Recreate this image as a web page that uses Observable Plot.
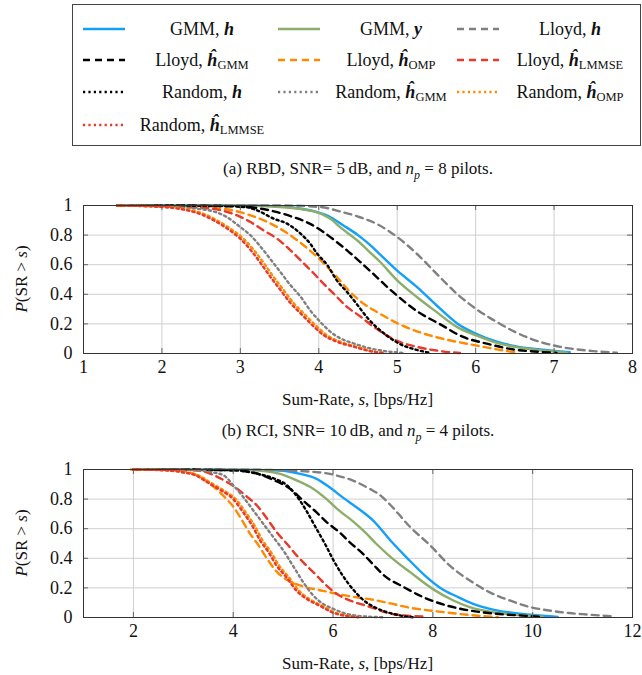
<!DOCTYPE html>
<html>
<head>
<meta charset="utf-8">
<script src="https://cdn.jsdelivr.net/npm/d3@7"></script>
<script src="https://cdn.jsdelivr.net/npm/@observablehq/plot@0.6"></script>
<style>
  html, body { margin: 0; padding: 0; background: #fff; }
  body { width: 642px; height: 675px; position: relative; overflow: hidden;
         font-family: "Liberation Serif", "Times New Roman", serif; color: #111; }
  .abs { position: absolute; white-space: nowrap; }
  .center { transform: translate(-50%, -50%); }
  .ylab { transform: translate(-50%, -50%) rotate(-90deg); font-size: 17px; }
  .cap, .xlab { font-size: 17px; }
  .legtext { font-size: 18px; text-align: center; width: 220px; transform: translate(-50%, -50%); }
  .legtext sub { font-size: 12.5px; vertical-align: -3px; line-height: 0; }
  .bi { font-weight: bold; font-style: italic; }
  #legend { position: absolute; left: 72px; top: 4px; width: 567px; height: 140px; border: 1px solid #444; }
</style>
</head>
<body>
<div id="legend"></div>
<script>
// ---------------- DATA ----------------
// legend / series descriptors
const methods = ["GMM", "GMM", "Lloyd", "Lloyd", "Lloyd", "Lloyd", "Random", "Random", "Random", "Random"];
const inputs  = ["h", "y", "h", "ĥ", "ĥ", "ĥ", "h", "ĥ", "ĥ", "ĥ"];
const subs    = ["", "", "", "GMM", "OMP", "LMMSE", "", "GMM", "OMP", "LMMSE"];

// (a) RBD, SNR = 5 dB, n_p = 8  -- [s, P(SR > s)]
const rbdGmmH = [[1.43,1],[3,1],[3.5,0.995],[3.77,0.978],[3.98,0.955],[4.15,0.921],[4.3,0.87],[4.5,0.8],[4.66,0.73],[4.79,0.665],[5,0.56],[5.25,0.45],[5.5,0.326],[5.76,0.205],[6,0.135],[6.27,0.08],[6.5,0.05],[6.82,0.027],[7.2,0.008]];
const rbdGmmY = [[1.43,1],[3,1],[3.5,0.99],[3.94,0.96],[4.15,0.91],[4.28,0.85],[4.5,0.76],[4.62,0.7],[4.78,0.62],[5,0.494],[5.25,0.382],[5.5,0.281],[5.76,0.18],[6,0.124],[6.27,0.072],[6.5,0.045],[6.82,0.022],[7.16,0.006]];
const rbdLloydH = [[1.43,1],[3.5,1],[4.02,0.99],[4.27,0.96],[4.5,0.925],[4.76,0.87],[5,0.787],[5.25,0.674],[5.5,0.54],[5.76,0.404],[6,0.303],[6.27,0.213],[6.5,0.146],[6.82,0.079],[7.08,0.045],[7.5,0.016],[7.8,0.005]];
const rbdLloydGmm = [[1.43,1],[2.5,0.998],[3.09,0.989],[3.47,0.955],[3.68,0.921],[3.89,0.876],[4.06,0.82],[4.23,0.753],[4.36,0.697],[4.53,0.618],[4.67,0.55],[4.97,0.404],[5.27,0.28],[5.54,0.2],[5.84,0.112],[6.14,0.067],[6.48,0.027],[6.82,0.011],[7.03,0.004]];
const rbdLloydOmp = [[1.43,1],[2.5,0.99],[3,0.955],[3.13,0.933],[3.3,0.899],[3.47,0.854],[3.64,0.798],[3.81,0.73],[3.98,0.652],[4.11,0.584],[4.23,0.517],[4.4,0.416],[4.57,0.337],[4.74,0.281],[5,0.205],[5.25,0.15],[5.5,0.11],[5.75,0.08],[6,0.055],[6.25,0.03],[6.5,0.008]];
const rbdLloydLmmse = [[1.43,1],[2.5,0.985],[2.96,0.933],[3.13,0.888],[3.3,0.831],[3.47,0.775],[3.64,0.697],[3.77,0.629],[3.94,0.539],[4.06,0.472],[4.19,0.404],[4.36,0.315],[4.53,0.25],[4.7,0.18],[5,0.085],[5.25,0.045],[5.5,0.02],[5.8,0.003]];
const rbdRandomH = [[1.43,1],[3,0.995],[3.2,0.97],[3.43,0.91],[3.6,0.876],[3.77,0.809],[3.89,0.742],[3.98,0.674],[4.11,0.596],[4.23,0.494],[4.36,0.416],[4.49,0.33],[4.63,0.235],[4.86,0.124],[5.05,0.06],[5.23,0.027],[5.42,0.004]];
const rbdRandomGmm = [[1.43,1],[2,0.995],[2.3,0.985],[2.5,0.975],[2.66,0.96],[2.83,0.921],[3,0.854],[3.13,0.798],[3.26,0.72],[3.38,0.64],[3.51,0.551],[3.64,0.461],[3.77,0.382],[3.89,0.292],[4.02,0.213],[4.15,0.146],[4.28,0.101],[4.45,0.067],[4.66,0.034],[4.9,0.012],[5.1,0.003]];
const rbdRandomOmp = [[1.43,1],[2,0.992],[2.3,0.975],[2.55,0.94],[2.7,0.9],[2.91,0.83],[3.04,0.775],[3.17,0.7],[3.3,0.61],[3.42,0.52],[3.55,0.43],[3.68,0.34],[3.81,0.27],[3.98,0.18],[4.1,0.125],[4.27,0.08],[4.49,0.045],[4.72,0.011],[4.85,0.003]];
const rbdRandomLmmse = [[1.43,1],[2,0.99],[2.25,0.975],[2.5,0.94],[2.66,0.9],[2.87,0.83],[3,0.775],[3.13,0.7],[3.26,0.61],[3.38,0.52],[3.51,0.43],[3.64,0.34],[3.77,0.27],[3.94,0.18],[4.06,0.125],[4.23,0.08],[4.45,0.045],[4.7,0.011],[4.85,0.003]];

// (b) RCI, SNR = 10 dB, n_p = 4  -- [s, P(SR > s)]
const rciGmmH = [[2,1],[4,0.999],[4.94,0.993],[5.34,0.97],[5.67,0.937],[5.93,0.88],[6.2,0.81],[6.49,0.74],[6.82,0.65],[7.15,0.52],[7.49,0.4],[7.82,0.29],[8.15,0.2],[8.49,0.14],[8.82,0.09],[9.25,0.05],[9.74,0.025],[10.2,0.012],[10.5,0.004]];
const rciGmmY = [[2,1],[4,0.998],[4.61,0.99],[4.94,0.97],[5.27,0.926],[5.6,0.87],[5.87,0.8],[6.13,0.72],[6.4,0.65],[6.66,0.57],[6.86,0.5],[7.15,0.41],[7.55,0.305],[8.01,0.19],[8.41,0.115],[8.74,0.07],[9.27,0.032],[9.74,0.015],[10.2,0.005]];
const rciLloydH = [[2,1],[4.5,0.998],[5.74,0.98],[6.07,0.96],[6.4,0.925],[6.73,0.87],[6.93,0.83],[7.15,0.76],[7.55,0.61],[7.95,0.486],[8.34,0.35],[8.74,0.25],[9.14,0.17],[9.54,0.115],[9.93,0.072],[10.33,0.047],[10.73,0.03],[11.1,0.02],[11.6,0.008]];
const rciLloydGmm = [[2,1],[4,0.995],[4.5,0.97],[4.8,0.93],[5.14,0.87],[5.4,0.79],[5.67,0.71],[5.87,0.645],[6.13,0.575],[6.33,0.51],[6.6,0.43],[6.8,0.36],[7.02,0.285],[7.42,0.205],[7.81,0.137],[8.28,0.081],[8.74,0.047],[9.27,0.025],[9.8,0.013],[10.2,0.004]];
const rciLloydOmp = [[1.95,1],[2.95,0.993],[3.28,0.96],[3.62,0.88],[3.81,0.82],[4.01,0.745],[4.18,0.655],[4.34,0.565],[4.51,0.486],[4.68,0.396],[4.87,0.31],[5.1,0.25],[5.4,0.21],[5.8,0.18],[6.15,0.155],[6.5,0.135],[6.8,0.12],[7.15,0.095],[7.55,0.065],[8,0.045],[8.5,0.025],[8.9,0.012],[9.3,0.003]];
const rciLloydLmmse = [[2,1],[3,0.998],[3.35,0.99],[3.62,0.96],[3.88,0.914],[4.08,0.87],[4.28,0.815],[4.48,0.755],[4.68,0.667],[4.87,0.577],[5.07,0.5],[5.27,0.42],[5.47,0.35],[5.67,0.284],[5.87,0.216],[6.07,0.16],[6.26,0.126],[6.46,0.1],[6.66,0.08],[6.86,0.058],[7.1,0.03],[7.35,0.017],[7.85,0.006]];
const rciRandomH = [[2,1],[4,0.995],[4.5,0.97],[4.85,0.935],[5.05,0.9],[5.25,0.83],[5.45,0.73],[5.65,0.61],[5.85,0.49],[6.02,0.38],[6.2,0.28],[6.4,0.19],[6.6,0.12],[6.8,0.075],[7,0.045],[7.2,0.025],[7.4,0.01],[7.6,0.002]];
const rciRandomGmm = [[2,1],[3,0.998],[3.4,0.99],[3.6,0.98],[3.81,0.96],[4.01,0.89],[4.21,0.81],[4.41,0.72],[4.61,0.63],[4.81,0.54],[5.01,0.45],[5.14,0.38],[5.27,0.31],[5.4,0.24],[5.6,0.15],[5.8,0.092],[6,0.059],[6.26,0.025],[6.6,0.008],[7,0.002]];
const rciRandomOmp = [[2,1],[2.65,0.995],[3.05,0.98],[3.3,0.96],[3.55,0.91],[3.8,0.86],[4.05,0.8],[4.25,0.71],[4.43,0.62],[4.59,0.52],[4.76,0.44],[4.92,0.35],[5.12,0.27],[5.32,0.18],[5.52,0.126],[5.79,0.078],[6.05,0.032],[6.32,0.01],[6.55,0.002]];
const rciRandomLmmse = [[2,1],[2.6,0.995],[3,0.98],[3.25,0.96],[3.5,0.91],[3.75,0.86],[4,0.8],[4.2,0.71],[4.38,0.62],[4.54,0.52],[4.71,0.44],[4.87,0.35],[5.07,0.27],[5.27,0.18],[5.47,0.126],[5.74,0.078],[6,0.032],[6.27,0.01],[6.5,0.002]];

const rbdSeries = [rbdGmmH, rbdGmmY, rbdLloydH, rbdLloydGmm, rbdLloydOmp, rbdLloydLmmse, rbdRandomH, rbdRandomGmm, rbdRandomOmp, rbdRandomLmmse];
const rciSeries = [rciGmmH, rciGmmY, rciLloydH, rciLloydGmm, rciLloydOmp, rciLloydLmmse, rciRandomH, rciRandomGmm, rciRandomOmp, rciRandomLmmse];

// tick values
const rbdXTicks = [1, 2, 3, 4, 5, 6, 7, 8];
const rciXTicks = [2, 4, 6, 8, 10, 12];
const yTicks = [0, 0.2, 0.4, 0.6, 0.8, 1];
const yTickLabels = ["0", "0.2", "0.4", "0.6", "0.8", "1"];

// ---------------- STYLE ----------------
const BLUE = "#139ffa", GREEN = "#8cae6a", GRAY = "#808080", BLACK = "#000", ORANGE = "#ff8a00", RED = "#e8392b";
const DASH = "7,5", DOT = "2.2,3.2";
const styles = [
  {stroke: BLUE, dash: null},
  {stroke: GREEN, dash: null},
  {stroke: GRAY, dash: DASH},
  {stroke: BLACK, dash: DASH},
  {stroke: ORANGE, dash: DASH},
  {stroke: RED, dash: DASH},
  {stroke: BLACK, dash: DOT},
  {stroke: GRAY, dash: DOT},
  {stroke: ORANGE, dash: DOT},
  {stroke: RED, dash: DOT}
];
const LW = 2.4;

// ---------------- LEGEND ----------------
const legend = document.getElementById("legend");
const legCols = [{line: 83, text: 202}, {line: 278, text: 391}, {line: 457, text: 570}];
const legRows = [29, 60, 92, 125];
const boxLeft = 73, boxTop = 5;
methods.forEach((m, i) => {
  const col = legCols[i % 3], row = legRows[Math.floor(i / 3)];
  const st = styles[i];
  const sv = document.createElementNS("http://www.w3.org/2000/svg", "svg");
  sv.setAttribute("width", 42); sv.setAttribute("height", 6);
  sv.style.position = "absolute";
  sv.style.left = (col.line - boxLeft) + "px";
  sv.style.top = (row - boxTop - 3) + "px";
  const ln = document.createElementNS("http://www.w3.org/2000/svg", "line");
  ln.setAttribute("x1", 0); ln.setAttribute("x2", 42); ln.setAttribute("y1", 3); ln.setAttribute("y2", 3);
  ln.setAttribute("stroke", st.stroke); ln.setAttribute("stroke-width", LW);
  if (st.dash) ln.setAttribute("stroke-dasharray", st.dash);
  sv.appendChild(ln);
  legend.appendChild(sv);
  const t = document.createElement("div");
  t.className = "abs legtext";
  t.style.left = (col.text - boxLeft) + "px";
  t.style.top = (row - boxTop) + "px";
  t.innerHTML = m + ", <span class='bi'>" + inputs[i] + "</span>" + (subs[i] ? "<sub>" + subs[i] + "</sub>" : "");
  legend.appendChild(t);
});

// ---------------- CHARTS ----------------
function addText(html, cls, left, top) {
  const d = document.createElement("div");
  d.className = "abs " + cls;
  d.style.left = left + "px"; d.style.top = top + "px";
  d.innerHTML = html;
  document.body.appendChild(d);
  return d;
}

function makeChart(series, xDomain, xTicks, top) {
  const W = 642, ML = 83, MR = 10, MT = 15, MB = 30, PH = 148;
  const H = MT + PH + MB, PW = W - ML - MR;
  const marks = [
    Plot.gridX(xTicks, {stroke: "#cfcfcf", strokeOpacity: 1, strokeWidth: 1}),
    Plot.gridY(yTicks, {stroke: "#cfcfcf", strokeOpacity: 1, strokeWidth: 1})
  ];
  series.forEach((data, i) => {
    marks.push(Plot.line(data, {
      x: d => d[0], y: d => d[1], stroke: styles[i].stroke, strokeWidth: LW,
      strokeDasharray: styles[i].dash || undefined, curve: "monotone-x"
    }));
  });
  marks.push(
    Plot.tickX(xTicks, {x: d => d, insetTop: PH - 5, stroke: "#666", strokeWidth: 1}),
    Plot.tickX(xTicks, {x: d => d, insetBottom: PH - 5, stroke: "#666", strokeWidth: 1}),
    Plot.tickY(yTicks, {y: d => d, insetRight: PW - 5, stroke: "#666", strokeWidth: 1}),
    Plot.tickY(yTicks, {y: d => d, insetLeft: PW - 5, stroke: "#666", strokeWidth: 1}),
    Plot.frame({stroke: "#333", strokeWidth: 1}),
    Plot.axisX(xTicks, {tickSize: 0, tickPadding: 7, label: null, fontSize: 18, fill: "#111"}),
    Plot.axisY(yTicks, {tickSize: 0, tickPadding: 11, label: null, fontSize: 18, fill: "#111",
      tickFormat: d => yTickLabels[yTicks.indexOf(d)]})
  );
  const svg = Plot.plot({
    width: W, height: H, marginLeft: ML, marginRight: MR, marginTop: MT, marginBottom: MB,
    style: {fontFamily: "'Liberation Serif', serif", fontSize: "18px", background: "transparent"},
    x: {domain: xDomain}, y: {domain: [0, 1]},
    marks
  });
  svg.style.position = "absolute";
  svg.style.left = "0px";
  svg.style.top = top + "px";
  document.body.appendChild(svg);
  const cx = ML + PW / 2, cy = top + MT + PH / 2;
  addText("<i>P</i>(SR &gt; <i>s</i>)", "ylab", 22, cy);
  addText("Sum-Rate, <i>s</i>, [bps/Hz]", "xlab center", cx, top + H + 17);
}

addText("(a) RBD, SNR= 5&#8201;dB, and <i>n<sub style='font-size:12px'>p</sub></i> = 8 pilots.", "cap center", 358, 171);
makeChart(rbdSeries, [1, 8], rbdXTicks, 190);
addText("(b) RCI, SNR= 10&#8201;dB, and <i>n<sub style='font-size:12px'>p</sub></i> = 4 pilots.", "cap center", 358, 433);
makeChart(rciSeries, [1, 12], rciXTicks, 454);
</script>
</body>
</html>
